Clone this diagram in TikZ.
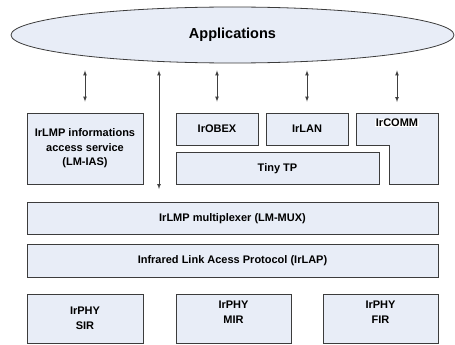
\documentclass[tikz,border=0pt]{standalone}
\usepackage{fontspec}
\setmainfont{Liberation Sans}
\usetikzlibrary{arrows,shapes,positioning}
\usetikzlibrary{calc}

\definecolor{layerfill}{HTML}{E8EDF7}
\definecolor{layerline}{HTML}{3C3C3C}

\begin{document}
\begin{tikzpicture}[x=1pt, y=-1pt, font=\fontsize{11}{14.5}\selectfont\bfseries]
        \tikzstyle{layer} = [rectangle, draw=layerline, fill=layerfill,
                             line width=0.8pt, align=center, inner sep=0pt]
        \tikzstyle{arrow} = [draw=black!75, latex-latex, line width=0.7pt,
                             >=latex, shorten <=7pt]
        \useasboundingbox (0,0) rectangle (455,345);
        \node[ellipse, draw=layerline, fill=layerfill, line width=0.8pt,
              minimum width=443pt, minimum height=56pt, inner sep=0pt,
              font=\fontsize{14.5}{16}\selectfont\bfseries] (app) at (232.5,35)
          {Applications};
        % upper layers
        \node[layer, minimum width=116pt, minimum height=71pt] (ias)
          at (85,148.5) {IrLMP informations\\access service\\(LM-IAS)};
        \node[layer, minimum width=82pt, minimum height=32pt] (obex)
          at (217,129) {IrOBEX};
        \node[layer, minimum width=82pt, minimum height=32pt] (lan)
          at (307,129) {IrLAN};
        \node[layer, minimum width=203pt, minimum height=32pt] (tiny)
          at (277.5,168.5) {Tiny TP};
        \draw[layer] (356,113) coordinate (comm) -- (438,113) -- (438,184.5)
                     -- (389,184.5) -- (389,145) -- (356,145) -- cycle;
        \node[fill=white, inner sep=0.6pt] (commtext) at (397,123) {IrCOMM};
        % lower layers
        \node[layer, minimum width=411pt, minimum height=32pt] (mux)
          at (232.5,218.5) {IrLMP multiplexer (LM-MUX)};
        \node[layer, minimum width=411pt, minimum height=33pt] (lap)
          at (232.5,260.5) {Infrared Link Acess Protocol (IrLAP)};
        \node[layer, minimum width=116pt, minimum height=49pt] (sir)
          at (85,318.5) {IrPHY\\SIR};
        \node[layer, minimum width=115pt, minimum height=49pt] (mir)
          at (233.5,318.5) {};
        \node[below=4pt of mir.north, align=center] (mirtext) {IrPHY\\MIR};
        \node[layer, minimum width=115pt, minimum height=49pt] (fir)
          at (380.5,318.5) {};
        \node[below=4pt of fir.north, align=center] (firtext) {IrPHY\\FIR};
        % links to the applications
        \coordinate (tap) at (159,202);
        \path[arrow, shorten >=11pt] (app.south -| ias.north) -- (ias.north);
        \path[arrow, shorten >=13pt] (app.south -| tap) -- (tap);
        \path[arrow, shorten >=11pt] (app.south -| obex.north) -- (obex.north);
        \path[arrow, shorten >=11pt] (app.south -| lan.north) -- (lan.north);
        \path[arrow, shorten >=11pt] (app.south -| commtext.north)
                                     -- (commtext.north |- comm);
      \end{tikzpicture}
\end{document}
